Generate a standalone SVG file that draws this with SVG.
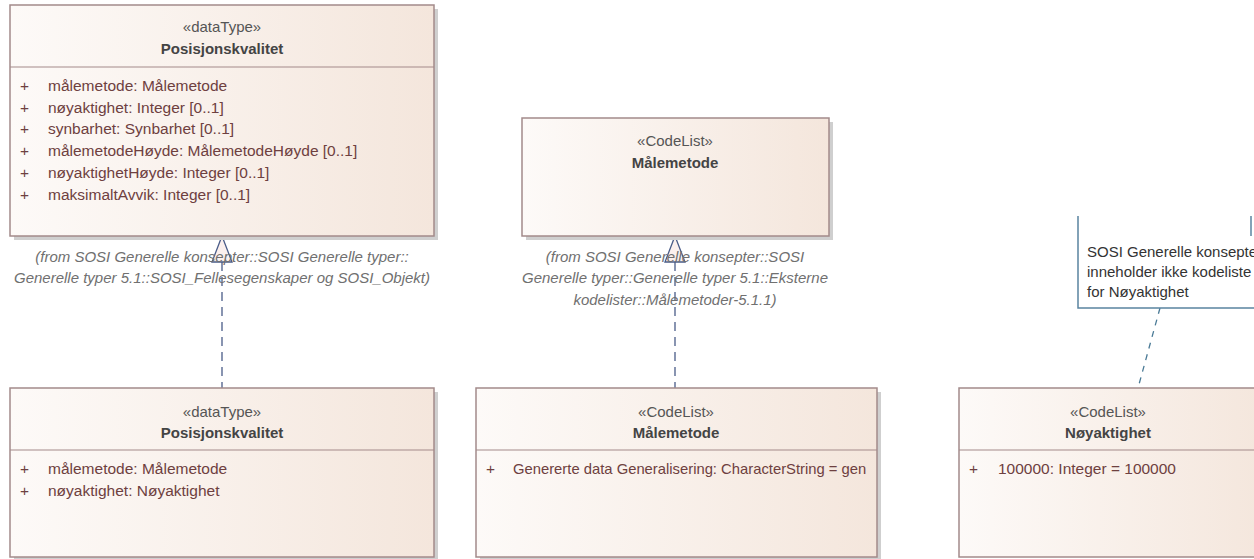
<svg xmlns="http://www.w3.org/2000/svg" width="1254" height="559" viewBox="0 0 1254 559">
<defs>
<linearGradient id="g" x1="0" y1="0" x2="1" y2="0">
<stop offset="0" stop-color="#fdfaf8"/>
<stop offset="1" stop-color="#f4e6dc"/>
</linearGradient>
</defs>
<style>
.box{fill:url(#g);stroke:#a38a8a;stroke-width:1.5}
.sh{fill:#cfcfcf}
.sep{stroke:#a38a8a;stroke-width:1.2}
text{font-family:"Liberation Sans",Arial,sans-serif;font-size:15px}
.st{fill:#555;text-anchor:middle}
.nm{fill:#444;font-weight:bold;text-anchor:middle}
.at text{fill:#6e4040;font-size:15.5px}
.at text.sm{font-size:14.8px}
.lb{fill:#707070;font-style:italic;text-anchor:middle}
.nt{fill:#333}
.dep{stroke:#4a5c88;stroke-width:1.3;stroke-dasharray:9,6;fill:none}
.tri{fill:#fbf0ee;stroke:#4a5c88;stroke-width:1.3}
.nl{stroke:#4a7a96;stroke-width:1.3;stroke-dasharray:6,6;fill:none}
.note{fill:#fff;stroke:#5a84a0;stroke-width:1.5}
</style>

<g id="connectors">
<line class="dep" x1="222" y1="262" x2="222" y2="388"/>
<polygon class="tri" points="222,236 212,262 232,262"/>
<line class="dep" x1="675" y1="262" x2="675" y2="388"/>
<polygon class="tri" points="675,236 665,262 685,262"/>
<line class="nl" x1="1160" y1="308" x2="1138" y2="388"/>
</g>

<g id="node-posisjonskvalitet-top">
<rect class="sh" x="14" y="9" width="424" height="231"/>
<rect class="box" x="10" y="5" width="424" height="231"/>
<line class="sep" x1="10" y1="67" x2="434" y2="67"/>
<text class="st" x="222" y="32">«dataType»</text>
<text class="nm" x="222" y="54">Posisjonskvalitet</text>
<g class="at">
<text x="20" y="91">+</text><text x="48" y="91">målemetode: Målemetode</text>
<text x="20" y="113">+</text><text x="48" y="113">nøyaktighet: Integer [0..1]</text>
<text x="20" y="134">+</text><text x="48" y="134">synbarhet: Synbarhet [0..1]</text>
<text x="20" y="156">+</text><text x="48" y="156">målemetodeHøyde: MålemetodeHøyde [0..1]</text>
<text x="20" y="178">+</text><text x="48" y="178">nøyaktighetHøyde: Integer [0..1]</text>
<text x="20" y="200">+</text><text x="48" y="200">maksimaltAvvik: Integer [0..1]</text>
</g>
<text class="lb" x="222" y="262">(from SOSI Generelle konsepter::SOSI Generelle typer::</text>
<text class="lb" x="222" y="283">Generelle typer 5.1::SOSI_Fellesegenskaper og SOSI_Objekt)</text>
</g>

<g id="node-malemetode-top">
<rect class="sh" x="526" y="122" width="307" height="118"/>
<rect class="box" x="522" y="118" width="307" height="118"/>
<text class="st" x="675" y="146">«CodeList»</text>
<text class="nm" x="675" y="168">Målemetode</text>
<text class="lb" x="675" y="262">(from SOSI Generelle konsepter::SOSI</text>
<text class="lb" x="675" y="283">Generelle typer::Generelle typer 5.1::Eksterne</text>
<text class="lb" x="675" y="305">kodelister::Målemetoder-5.1.1)</text>
</g>

<g id="node-note">
<path class="note" d="M1078,216 L1078,308 L1256,308 L1256,216"/>
<line x1="1251" y1="216" x2="1251" y2="236" stroke="#5a84a0" stroke-width="1.5"/>
<text class="nt" x="1087" y="257">SOSI Generelle konsepter</text>
<text class="nt" x="1087" y="277">inneholder ikke kodeliste</text>
<text class="nt" x="1087" y="297">for Nøyaktighet</text>
</g>

<g id="node-posisjonskvalitet-bottom">
<rect class="sh" x="14" y="392" width="424" height="169"/>
<rect class="box" x="10" y="388" width="424" height="169"/>
<line class="sep" x1="10" y1="450" x2="434" y2="450"/>
<text class="st" x="222" y="417">«dataType»</text>
<text class="nm" x="222" y="438">Posisjonskvalitet</text>
<g class="at">
<text x="20" y="474">+</text><text x="48" y="474">målemetode: Målemetode</text>
<text x="20" y="496">+</text><text x="48" y="496">nøyaktighet: Nøyaktighet</text>
</g>
</g>

<g id="node-malemetode-bottom">
<rect class="sh" x="480" y="392" width="401" height="169"/>
<rect class="box" x="476" y="388" width="401" height="169"/>
<line class="sep" x1="476" y1="450" x2="877" y2="450"/>
<text class="st" x="676" y="417">«CodeList»</text>
<text class="nm" x="676" y="438">Målemetode</text>
<g class="at">
<text x="486" y="474">+</text><text class="sm" x="513" y="474">Genererte data Generalisering: CharacterString = gen</text>
</g>
</g>

<g id="node-noyaktighet">
<rect class="box" x="959" y="388" width="310" height="169"/>
<line class="sep" x1="959" y1="450" x2="1269" y2="450"/>
<text class="st" x="1108" y="417">«CodeList»</text>
<text class="nm" x="1108" y="438">Nøyaktighet</text>
<g class="at">
<text x="969" y="474">+</text><text x="998" y="474">100000: Integer = 100000</text>
</g>
</g>
</svg>
